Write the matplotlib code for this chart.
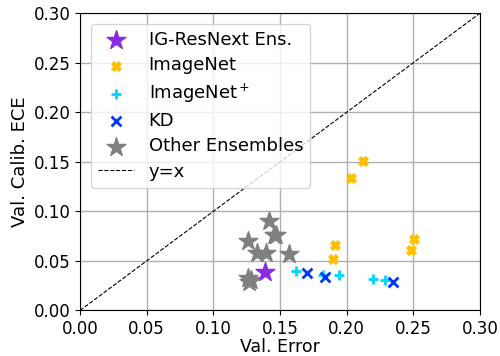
import numpy as np
import matplotlib
matplotlib.use("Agg")
import matplotlib.pyplot as plt

# values
ig_err = [0.139]
ig_ece = [0.039]

imagenet_err = [0.212, 0.203, 0.191, 0.190, 0.2505, 0.2485]
imagenet_ece = [0.151, 0.134, 0.066, 0.052, 0.072, 0.061]

imagenet_plus_err = [0.162, 0.1825, 0.194, 0.220, 0.229]
imagenet_plus_ece = [0.040, 0.036, 0.036, 0.032, 0.031]

kd_err = [0.170, 0.184, 0.235]
kd_ece = [0.038, 0.034, 0.029]

other_err = [0.142, 0.1455, 0.147, 0.126, 0.1325, 0.1395, 0.1565, 0.126, 0.127, 0.128]
other_ece = [0.090, 0.076, 0.076, 0.070, 0.058, 0.058, 0.057, 0.033, 0.029, 0.031]

fig, ax = plt.subplots(figsize=(5, 3.56), dpi=100)
fig.subplots_adjust(left=0.16, right=0.96, bottom=0.128, top=0.963)

ax.grid(True, color='#b0b0b0', linewidth=1, zorder=0)
ax.set_axisbelow(True)

ax.scatter(ig_err, ig_ece, marker='*', s=200, color='#8a2be2', label='IG-ResNext Ens.', zorder=4)
ax.scatter(imagenet_err, imagenet_ece, marker='X', s=45, color='#ffc000', label='ImageNet', zorder=3)
ax.scatter(imagenet_plus_err, imagenet_plus_ece, marker='+', s=60, linewidths=2, color='#00d5ff',
           label='ImageNet$^+$', zorder=3)
ax.scatter(kd_err, kd_ece, marker='x', s=50, linewidths=2, color='#0033ff', label='KD', zorder=3)
ax.scatter(other_err, other_ece, marker='*', s=200, color='grey', label='Other Ensembles', zorder=3)
ax.plot([0, 0.3], [0, 0.3], 'k--', linewidth=0.8, label='y=x')

ax.set_xlim(0, 0.3)
ax.set_ylim(0, 0.3)
ticks = np.arange(0, 0.31, 0.05)
ax.set_xticks(ticks)
ax.set_yticks(ticks)
ax.set_xticklabels(['%.2f' % t for t in ticks])
ax.set_yticklabels(['%.2f' % t for t in ticks])
ax.tick_params(labelsize=12)
ax.set_xlabel('Val. Error', fontsize=12.5, labelpad=0)
ax.set_ylabel('Val. Calib. ECE', fontsize=13, labelpad=3)

ax.legend(loc='upper left', fontsize=13, framealpha=0.8, borderaxespad=0.6,
          labelspacing=0.4)

fig.savefig('out.png')
